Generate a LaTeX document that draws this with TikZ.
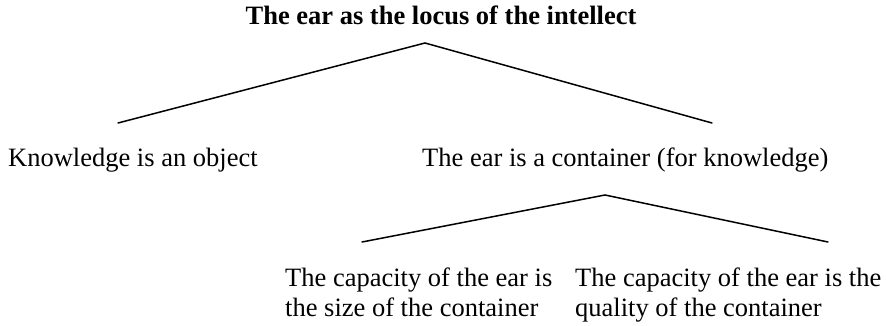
\documentclass[tikz,border=0pt]{standalone}
\usepackage{fontspec}
\setmainfont{Liberation Serif}
\begin{document}
\begin{tikzpicture}[x=1pt, y=-1pt, font=\fontsize{26.5}{29.5}\selectfont]
	\useasboundingbox (0,0) rectangle (886,326);
	\tikzset{branch/.style={line width=1.5pt, line cap=round}}
	\node[anchor=base, inner sep=0pt, font=\fontsize{26.5}{29.5}\selectfont\bfseries] (locus) at (441,25) {The ear as the locus of the intellect};
	\coordinate (top) at (425,43);
	\coordinate (objL) at (118,123);
	\coordinate (contR) at (712,123);
	\node[anchor=base west, inner sep=0pt] (object) at (8,167) {Knowledge is an object};
	\node[anchor=base west, inner sep=0pt] (container) at (422,167) {The ear is a container (for knowledge)};
	\coordinate (mid) at (605,195);
	\coordinate (sizeL) at (362,242);
	\coordinate (qualR) at (828,242);
	\node[anchor=base west, inner sep=0pt, align=left] (size) at (285,316) {The capacity of the ear is\\the size of the container};
	\node[anchor=base west, inner sep=0pt, align=left] (quality) at (575,316) {The capacity of the ear is the\\quality of the container};
	\draw[branch] (objL) -- (top) -- (contR);
	\draw[branch] (sizeL) -- (mid) -- (qualR);
\end{tikzpicture}
\end{document}
